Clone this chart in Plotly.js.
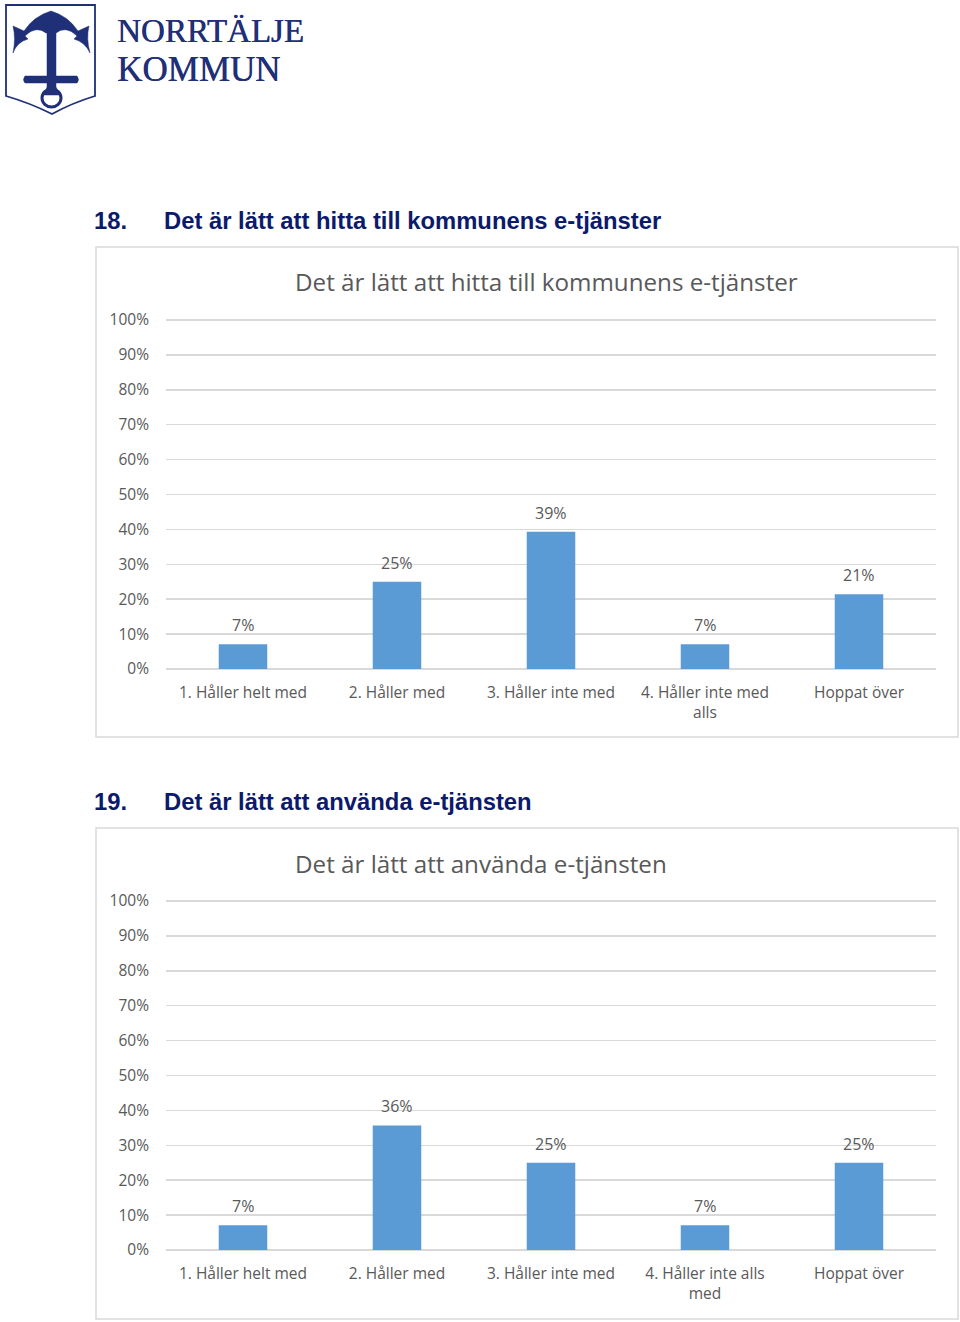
<!DOCTYPE html>
<html>
<head>
<meta charset="utf-8">
<script src="https://cdn.plot.ly/plotly-3.0.1.min.js"></script>
<style>
  html, body { margin: 0; padding: 0; background: #fff; }
</style>
</head>
<body>
<div id="plot1" style="width:960px;height:1322px;"></div>
<script>
//prepare input data
var chartTitle1 = 'Det är lätt att hitta till kommunens e-tjänster';
var chartTitle2 = 'Det är lätt att använda e-tjänsten';
var categories1 = ['1. Håller helt med', '2. Håller med', '3. Håller inte med', '4. Håller inte med<br>alls', 'Hoppat över'];
var categories2 = ['1. Håller helt med', '2. Håller med', '3. Håller inte med', '4. Håller inte alls<br>med', 'Hoppat över'];
var values1 = [7.1, 25, 39.3, 7.1, 21.4];
var values2 = [7.1, 35.7, 25, 7.1, 25];
var tickValues = [0, 10, 20, 30, 40, 50, 60, 70, 80, 90, 100];

var W = 960, H = 1322;
var greyText = '#595959';
var navy = '#0b1a6b';
var logoBlue = '#1f2f78';

//pixel position on the page to paper coordinates
function px(x) { return x / W; }
function py(y) { return 1 - y / H; }

//build a paper path from pixel pairs, letters stay as they are
function paperPath(str) {
  return str.replace(/(-?[\d.]+),(-?[\d.]+)/g, function (m, x, y) {
    return px(+x).toFixed(5) + ',' + py(+y).toFixed(5);
  });
}

function logoShape(path, fill, line, width) {
  return {
    type: 'path', xref: 'paper', yref: 'paper', layer: 'above',
    path: paperPath(path),
    fillcolor: fill,
    line: {color: line, width: width}
  };
}

function boxShape(x0, y0, x1, y1) {
  return {
    type: 'rect', xref: 'paper', yref: 'paper', layer: 'below',
    x0: px(x0), x1: px(x1), y0: py(y0), y1: py(y1),
    line: {color: '#d9d9d9', width: 1.5}
  };
}

function labels(values, cats, xa, ya) {
  return values.map(function (v, i) {
    return {
      x: cats[i], y: v, xref: xa, yref: ya,
      text: Math.round(v) + '%', showarrow: false,
      yanchor: 'middle', yshift: 19,
      font: {family: 'Open Sans', size: 16, color: greyText}
    };
  });
}

function textNote(x, y, text, size, color, family, weight, shadow) {
  return {
    x: px(x), y: py(y), xref: 'paper', yref: 'paper', xanchor: 'left', yanchor: 'middle',
    text: text, showarrow: false,
    font: {family: family, size: size, color: color, weight: weight || 400, shadow: shadow || 'none'}
  };
}

function draw() {
  try {
    var bars1 = {x: categories1, y: values1, type: 'bar', xaxis: 'x', yaxis: 'y',
      width: 0.315, marker: {color: '#5b9bd5'}, hoverinfo: 'skip'};
    var bars2 = {x: categories2, y: values2, type: 'bar', xaxis: 'x2', yaxis: 'y2',
      width: 0.315, marker: {color: '#5b9bd5'}, hoverinfo: 'skip'};

    var xStyle = {
      domain: [px(166), px(936)], type: 'category', showgrid: false, zeroline: false,
      showline: false, ticks: '', ticklabelstandoff: 12, automargin: false,
      tickangle: 0, tickfont: {family: 'Open Sans', size: 15.5, color: greyText}
    };
    var yStyle = {
      //a bit above 100 so the top gridline is not clipped off
      range: [0, 100.6], tickmode: 'array', tickvals: tickValues,
      ticktext: tickValues.map(function (t) { return t + '%'; }),
      showgrid: true, gridcolor: '#d9d9d9', gridwidth: 1.5, zeroline: true,
      zerolinecolor: '#d9d9d9', zerolinewidth: 1.5, showline: false, ticks: '',
      ticklabelstandoff: 16, automargin: false,
      tickfont: {family: 'Open Sans', size: 15.5, color: greyText}
    };

    var layout = {
      width: W, height: H,
      margin: {l: 0, r: 0, t: 0, b: 0},
      paper_bgcolor: '#fff', plot_bgcolor: 'rgba(0,0,0,0)',
      showlegend: false, bargap: 0.685,
      xaxis: Object.assign({}, xStyle, {anchor: 'y'}),
      yaxis: Object.assign({}, yStyle, {domain: [py(669), py(317.9)], anchor: 'x'}),
      xaxis2: Object.assign({}, xStyle, {anchor: 'y2'}),
      yaxis2: Object.assign({}, yStyle, {domain: [py(1250), py(898.9)], anchor: 'x2'}),
      shapes: [
        boxShape(96, 247, 958, 737),
        boxShape(96, 828, 958, 1319),
        //shield
        logoShape('M 6,5 L 95,5 L 95,96 Q 72,103 52,114 Q 30,103 6,96 Z', '#ffffff', logoBlue, 1.8),
        //anchor arms
        logoShape('M 51,11 Q 68,16 78,31 L 89,26 Q 86,38 90,53 Q 85,42 74,39 L 77,36 Q 66,25 56,33 L 46,33 Q 36,25 25,36 L 28,39 Q 17,42 13,53 Q 16,38 13,26 L 24,31 Q 34,16 51,11 Z', logoBlue, logoBlue, 0.5),
        //ring
        {type: 'circle', xref: 'paper', yref: 'paper', layer: 'above',
          x0: px(42), x1: px(61), y0: py(107), y1: py(89),
          fillcolor: '#ffffff', line: {color: logoBlue, width: 3}},
        //anchor shank and stock
        logoShape('M 47,20 L 56,20 L 56,76 L 77,76 Q 80,80 77,83 L 56,83 L 56,87 L 60,95 L 44,95 L 47,87 L 47,83 L 25,83 Q 22,80 25,76 L 47,76 Z', logoBlue, logoBlue, 0.5)
      ],
      annotations: [].concat(
        labels(values1, categories1, 'x', 'y'),
        labels(values2, categories2, 'x2', 'y2'),
        [
          textNote(115, 31, 'NORRTÄLJE', 33, logoBlue, 'Liberation Serif', 400, '0.5px 0 0 ' + logoBlue),
          textNote(115, 70, 'KOMMUN', 35, logoBlue, 'Liberation Serif', 400, '0.5px 0 0 ' + logoBlue),
          textNote(92, 221, '18.', 23.8, navy, 'Liberation Sans', 700),
          textNote(162, 221, chartTitle1, 23.8, navy, 'Liberation Sans', 700),
          textNote(92, 801.5, '19.', 23.8, navy, 'Liberation Sans', 700),
          textNote(162, 801.5, 'Det är lätt att använda e-tjänsten', 23.8, navy, 'Liberation Sans', 700),
          textNote(293, 282, chartTitle1, 24.2, greyText, 'Open Sans', 400),
          textNote(293, 863, chartTitle2, 24.2, greyText, 'Open Sans', 400)
        ]
      )
    };

    //display using plotly
    Plotly.newPlot('plot1', [bars1, bars2], layout, {displayModeBar: false, staticPlot: true});
  }
  catch (err) {
    console.error(err);
  }
}
//run function
draw();
</script>
</body>
</html>
